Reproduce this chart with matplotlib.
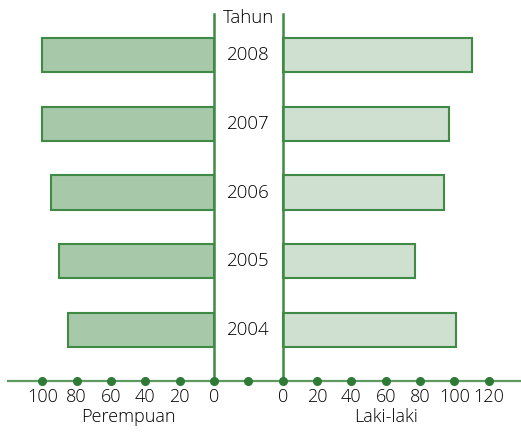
import matplotlib
matplotlib.use("Agg")
import matplotlib.pyplot as plt
import numpy as np

years = ["2004", "2005", "2006", "2007", "2008"]
perempuan = [85, 90, 95, 100, 100]
laki_laki = [101, 77, 94, 97, 110]
left_ticks = [100, 80, 60, 40, 20, 0]
right_ticks = [0, 20, 40, 60, 80, 100, 120]

plt.rcParams['font.family'] = ['Open Sans', 'DejaVu Sans']
plt.rcParams['font.weight'] = 'light'

W, H = 521, 432
fig = plt.figure(figsize=(W/100, H/100), dpi=100)
ax = fig.add_axes([0, 0, 1, 1])
ax.axis('off')

pxu = 1.717     # px per x unit
cx = 248.3      # px of centre
ypx = 68.7      # px per category
y0px = 330      # px of first category centre (from top)
ax.set_xlim(-cx/pxu, (W-cx)/pxu)
ax.set_ylim(-(H-y0px)/ypx, y0px/ypx)

gap = 20
edge = '#3f8a45'
line = '#3f8a45'
ypos = np.arange(len(years))

ax.barh(ypos, [-v for v in perempuan], left=-gap, height=0.5,
        color='#a8c8aa', edgecolor=edge, linewidth=1.5, zorder=2)
ax.barh(ypos, laki_laki, left=gap, height=0.5,
        color='#cfdfd0', edgecolor=edge, linewidth=1.5, zorder=2)

yaxis = -(380.7 - y0px)/ypx
ytop = (y0px - 14)/ypx
ax.plot([-gap, -gap], [yaxis, ytop], color=line, lw=1.8, zorder=3)
ax.plot([gap, gap], [yaxis, ytop], color=line, lw=1.8, zorder=3)

ax.plot([(8-cx)/pxu, (W-cx)/pxu], [yaxis, yaxis], color='#5d9a60', lw=1.6, zorder=1)
lx = [-gap - t for t in left_ticks]
rx = [gap + t for t in right_ticks]
dots = lx + [0] + rx
ax.plot(dots, [yaxis]*len(dots), 'o', color='#2e7a36', ms=5.5, zorder=4)

tc = '#000000'
fs = 13
ylab = -(397 - y0px)/ypx
for x, t in zip(lx, left_ticks):
    ax.text(x, ylab, str(t), ha='center', va='center', fontsize=fs, color=tc)
for x, t in zip(rx, right_ticks):
    ax.text(x, ylab, str(t), ha='center', va='center', fontsize=fs, color=tc)

ytitle = -(417 - y0px)/ypx
ax.text(-gap - 50, ytitle, 'Perempuan', ha='center', va='center', fontsize=fs, color=tc)
ax.text(gap + 60, ytitle, 'Laki-laki', ha='center', va='center', fontsize=fs, color=tc)

for y, yr in zip(ypos, years):
    ax.text(0, y, yr, ha='center', va='center', fontsize=13.5, color=tc)
ax.text(0, (y0px - 18)/ypx, 'Tahun', ha='center', va='center', fontsize=13.5, color=tc)

fig.savefig('out.png', dpi=100)
